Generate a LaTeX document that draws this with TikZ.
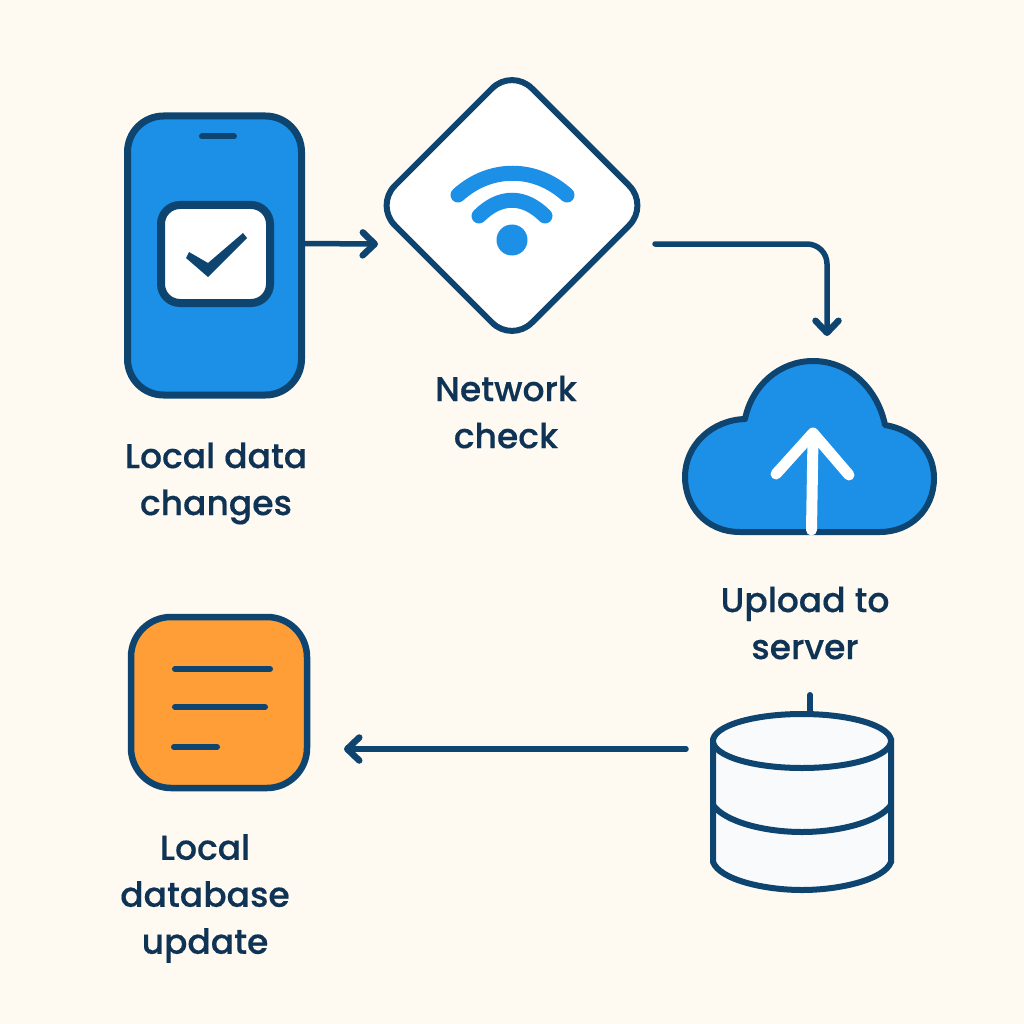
\documentclass[tikz,border=0pt]{standalone}
\usepackage{fontspec}
\setmainfont{Poppins Medium}[FakeBold=0.35]
\usetikzlibrary{arrows.meta,calc,shapes.geometric}
\definecolor{bgc}{HTML}{FEF9F1}
\definecolor{ink}{HTML}{0D4470}
\definecolor{txt}{HTML}{0F3354}
\definecolor{blu}{HTML}{1C8FE6}
\definecolor{org}{HTML}{FF9D36}
\definecolor{pale}{HTML}{F8FAFB}
\tikzset{
  icon/.style={draw=ink,outer sep=0pt,inner sep=0pt},
  ghost/.style={outer sep=0pt,inner sep=0pt},
  flow/.style={draw=ink,line width=5.5pt,line cap=round,line join=round,
    -{Straight Barb[length=12pt,width=23pt,line width=6.5pt,round]}},
  bar/.style={draw=ink,line width=6pt,line cap=round},
  wave/.style={draw=blu,line width=15pt,line cap=round},
  lbl/.style={text=txt,align=center,font=\fontsize{34.5}{47}\selectfont,inner sep=0pt},
}
\begin{document}
\begin{tikzpicture}[x=1pt,y=-1pt]
\useasboundingbox (0,0) rectangle (1024,1024);
\fill[bgc] (0,0) rectangle (1024,1024);

% phone
\node[icon,fill=blu,line width=7pt,rounded corners=36pt,minimum width=174pt,minimum height=279pt] (phone) at (214.5,255.5) {};
\draw[bar] (202,136.5) -- (234,136.5);
\node[icon,fill=white,line width=8pt,rounded corners=19pt,minimum width=109pt,minimum height=98pt] (check) at (215.5,254) {};
\fill[ink] (186,258) -- (189,252) -- (208,263) -- (243,233) -- (247,238) -- (208,277) -- cycle;

% network diamond
\node[icon,fill=white,line width=6pt,shape=diamond,aspect=1,rounded corners=28pt,minimum width=274pt,minimum height=274pt] (net) at (512,205.5) {};
\draw[wave] (458,195) .. controls (490,166) and (535,166) .. (567,195);
\draw[wave] (479,216) .. controls (500,195) and (524,195) .. (545,216);
\fill[blu] (512,240) circle (15.5pt);

% cloud
\node[ghost,minimum width=255pt,minimum height=178pt] (cloud) at (809.5,447) {};
\draw[draw=ink,fill=blu,line width=6pt,line join=round]
  (740,532) .. controls (705,532) and (685,505) .. (685,477)
  .. controls (685,445) and (712,420) .. (745,419)
  .. controls (752,385) and (780,361) .. (813,361)
  .. controls (850,361) and (878,390) .. (885,425)
  .. controls (915,430) and (934,452) .. (934,478)
  .. controls (934,510) and (910,532) .. (880,532) -- cycle;
\draw[white,line width=11pt,line cap=round] (811.5,530) -- (813,438);
\draw[white,line width=11pt,line cap=round,line join=round] (776,474) -- (813,433) -- (849,475);

% database
\node[ghost,minimum width=184pt,minimum height=182pt] (db) at (802,802) {};
\draw[ink,line width=6pt,line cap=round] (810,695) -- (810,714);
\draw[draw=ink,fill=pale,line width=6pt]
  (713,741) -- (713,862) .. controls (720,880) and (765,890) .. (802,890)
  .. controls (839,890) and (884,880) .. (891,862) -- (891,741) -- cycle;
\draw[draw=ink,line width=6pt,fill=pale] (802,741) ellipse (89pt and 27pt);
\draw[ink,line width=6pt] (713,805) .. controls (725,822) and (765,832) .. (802,832)
  .. controls (839,832) and (879,822) .. (891,805);

% local store
\node[icon,fill=org,line width=6.5pt,rounded corners=40pt,minimum width=176pt,minimum height=171pt] (store) at (219,702.5) {};
\draw[bar] (175,669) -- (270,669);
\draw[bar] (175,707) -- (265,707);
\draw[bar] (174,747) -- (217,747);

% connectors
\draw[flow] ($(phone.east)+(0,-12)$) -- ($(net.west)+(3,38.5)$);
\draw[flow,rounded corners=20pt] ($(net.east)+(6,38.5)$) -- ($(cloud.north)+(17.5,-114)$) -- ($(cloud.north)+(17.5,-22)$);
\draw[flow] ($(db.west)+(-24,-53)$) -- ($(store.east)+(37,46.5)$);

% labels
\node[lbl] (l1) at (216,483.5) {Local data\\changes};
\node[lbl] (l2) at (506,412) {Network\\check};
\node[lbl] (l3) at (805,623) {Upload to\\server};
\node[lbl] (l4) at (205,898.5) {Local\\database\\update};
\end{tikzpicture}
\end{document}
